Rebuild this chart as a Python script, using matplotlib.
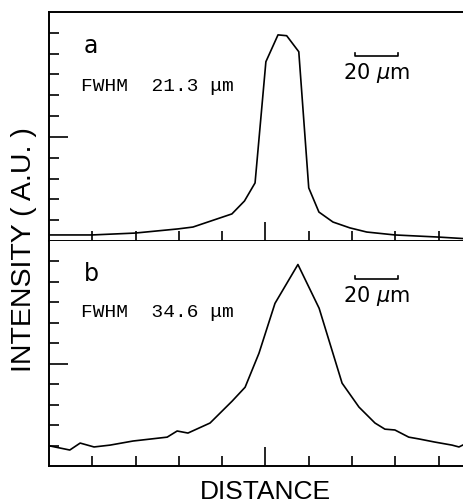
import matplotlib.pyplot as plt

# distance in micrometres, intensity in arbitrary units
dist_a = [0, 19.9, 39.7, 59.6, 66.5, 84.5, 90.3, 95.2, 100.2, 105.8, 109.8,
          115.4, 120.0, 124.7, 131.2, 139.0, 146.8, 159.8, 179.6, 194.0]
int_a = [0.29, 0.29, 0.38, 0.58, 0.67, 1.30, 1.92, 2.79, 8.61, 9.90, 9.86,
         9.09, 2.55, 1.39, 0.91, 0.63, 0.43, 0.29, 0.19, 0.10]

dist_b = [0.4, 9.6, 14.4, 20.8, 28.2, 38.8, 54.6, 59.2, 64.2, 74.4, 84.6,
          90.6, 97.0, 104.4, 115.0, 124.8, 135.4, 143.2, 150.6, 155.2, 159.8,
          166.2, 171.0, 178.2, 186.2, 189.4, 194.0]
int_b = [0.98, 0.78, 1.12, 0.93, 1.02, 1.22, 1.41, 1.71, 1.61, 2.10, 3.17,
         3.85, 5.51, 7.95, 9.85, 7.71, 4.05, 2.88, 2.10, 1.80, 1.76, 1.41,
         1.32, 1.17, 1.02, 0.93, 1.17]

labels = ["a", "b"]
fwhm_text = ["FWHM  21.3 μm", "FWHM  34.6 μm"]
scale_um = 20

fig = plt.figure(figsize=(4.64, 5.03), dpi=100)
ax_a = fig.add_axes([0.1056, 0.5209, 0.905, 0.4553])
ax_b = fig.add_axes([0.1056, 0.0736, 0.905, 0.4473])

panels = [(ax_a, dist_a, int_a, 8.9, 8.05), (ax_b, dist_b, int_b, 9.12, 8.3)]
for i, (ax, x, y, bar_y, txt_y) in enumerate(panels):
    ax.plot(x, y, color="black", lw=1.2)
    ax.set_xlim(0, 194)
    ax.set_ylim(0, 11)
    ax.spines["right"].set_visible(False)
    if i == 1:
        ax.spines["top"].set_visible(False)
    for s in ax.spines.values():
        s.set_linewidth(1.4)

    # long tick in the middle, short ones elsewhere
    ax.set_xticks([100])
    ax.set_xticks([20, 40, 60, 80, 120, 140, 160, 180], minor=True)
    ax.set_yticks([5])
    ax.set_yticks([1, 2, 3, 4, 6, 7, 8, 9, 10], minor=True)
    ax.tick_params(which="major", direction="in", length=14, width=1.2,
                   labelbottom=False, labelleft=False)
    ax.tick_params(which="minor", direction="in", length=7, width=1.2)

    ax.text(16, 9.35 if i == 0 else 9.4, labels[i], fontsize=17,
            family="DejaVu Sans", va="center", ha="left")
    ax.text(15, 7.4 if i == 0 else 7.5, fwhm_text[i], fontsize=14,
            family="Liberation Mono", va="center", ha="left")

    # 20 um scale bar
    x0 = 141.2
    ax.plot([x0, x0, x0 + scale_um, x0 + scale_um],
            [bar_y + 0.15, bar_y, bar_y, bar_y + 0.15], color="black", lw=1.2)
    ax.text(x0 + scale_um / 2, txt_y, r"20 $\mu$m", fontsize=15,
            family="DejaVu Sans", ha="center", va="center")

fig.text(0.052, 0.503, "INTENSITY ( A.U. )", rotation=90, fontsize=20.5,
         family="Liberation Sans", ha="center", va="center")
fig.text(0.572, 0.022, "DISTANCE", fontsize=19, family="Liberation Sans",
         ha="center", va="center")

fig.savefig("out.png", dpi=100)
